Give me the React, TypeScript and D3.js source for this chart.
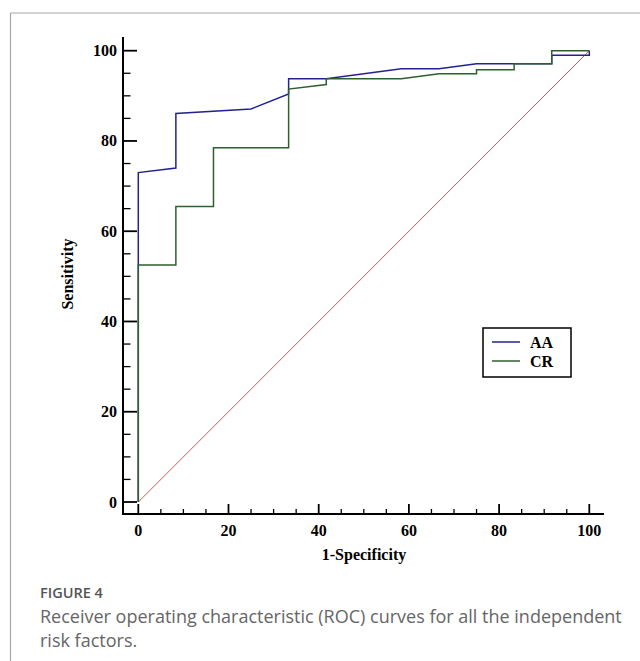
import React from "react";
import * as d3 from "d3";

const xTicks = [0, 20, 40, 60, 80, 100];
const yTicks = [0, 20, 40, 60, 80, 100];

const aaX = [0, 0, 8.33, 8.33, 25, 33.33, 33.33, 41.67, 58.33, 66.67, 75, 91.67, 91.67, 100, 100];
const aaY = [0, 73, 74, 86.1, 87.1, 90.4, 93.8, 93.8, 96, 96, 97.1, 97.1, 99, 99, 100];

const crX = [0, 0, 8.33, 8.33, 16.67, 16.67, 33.33, 33.33, 41.67, 41.67, 58.33, 66.67, 75, 75, 83.33, 83.33, 91.67, 91.67, 100];
const crY = [0, 52.5, 52.5, 65.5, 65.5, 78.5, 78.5, 91.5, 92.5, 93.8, 93.8, 94.9, 94.9, 95.8, 95.8, 97.1, 97.1, 100, 100];

const refX = [0, 100];
const refY = [0, 100];

const seriesNames = ["AA", "CR"];
const seriesColors = ["#23238f", "#2e5f2e"];

export default function App() {
  const x = d3.scaleLinear().domain([0, 100]).range([138.3, 589.3]);
  const y = d3.scaleLinear().domain([0, 100]).range([502, 50.7]);
  const line = d3
    .line<[number, number]>()
    .x((d) => x(d[0]))
    .y((d) => y(d[1]));
  const aa = aaX.map((v, i) => [v, aaY[i]] as [number, number]);
  const cr = crX.map((v, i) => [v, crY[i]] as [number, number]);
  const ref = refX.map((v, i) => [v, refY[i]] as [number, number]);
  const minor = d3.range(0, 101, 5).filter((v) => v % 20 !== 0);
  const axisX = 123;
  const axisY = 514;
  const serif = "'Liberation Serif', 'Times New Roman', serif";
  const sans = "'Open Sans', 'Noto Sans', sans-serif";

  return (
    <svg
      width={640}
      height={661}
      style={{ position: "absolute", left: 0, top: 0, background: "#fff" }}
    >
      <rect x={0} y={0} width={640} height={661} fill="#fff" />
      {/* frame */}
      <line x1={10.5} y1={13} x2={640} y2={13} stroke="#a8a8a8" strokeWidth={1.2} />
      <line x1={10.5} y1={13} x2={10.5} y2={661} stroke="#a8a8a8" strokeWidth={1.2} />

      {/* reference diagonal */}
      <path d={line(ref) || ""} fill="none" stroke="#d2453c" strokeWidth={0.9} />
      {/* curves */}
      <path d={line(aa) || ""} fill="none" stroke={seriesColors[0]} strokeWidth={1.5} />
      <path d={line(cr) || ""} fill="none" stroke={seriesColors[1]} strokeWidth={1.5} />

      {/* axes */}
      <line x1={axisX} y1={37} x2={axisX} y2={axisY + 1} stroke="#000" strokeWidth={2} />
      <line x1={axisX - 1} y1={axisY} x2={604} y2={axisY} stroke="#000" strokeWidth={2} />
      {yTicks.map((t) => (
        <g key={"yt" + t}>
          <line x1={axisX} x2={axisX + 14} y1={y(t)} y2={y(t)} stroke="#000" strokeWidth={1.8} />
          <text
            x={117}
            y={y(t)}
            textAnchor="end"
            dominantBaseline="central"
            fontFamily={serif}
            fontWeight="bold"
            fontSize={16}
          >
            {t}
          </text>
        </g>
      ))}
      {minor.map((t) => (
        <line key={"ym" + t} x1={axisX} x2={axisX + 7.5} y1={y(t)} y2={y(t)} stroke="#000" strokeWidth={1.3} />
      ))}
      {xTicks.map((t) => (
        <g key={"xt" + t}>
          <line x1={x(t)} x2={x(t)} y1={axisY} y2={axisY - 10} stroke="#000" strokeWidth={1.8} />
          <text
            x={x(t)}
            y={536}
            textAnchor="middle"
            fontFamily={serif}
            fontWeight="bold"
            fontSize={16}
          >
            {t}
          </text>
        </g>
      ))}
      {minor.map((t) => (
        <line key={"xm" + t} x1={x(t)} x2={x(t)} y1={axisY} y2={axisY - 5} stroke="#000" strokeWidth={1.3} />
      ))}

      {/* axis titles */}
      <text x={364} y={560} textAnchor="middle" fontFamily={serif} fontWeight="bold" fontSize={16}>
        1-Specificity
      </text>
      <text
        transform="translate(67,274) rotate(-90)"
        textAnchor="middle"
        dominantBaseline="central"
        fontFamily={serif}
        fontWeight="bold"
        fontSize={16}
      >
        Sensitivity
      </text>

      {/* legend */}
      <rect x={483} y={328} width={88} height={49} fill="#fff" stroke="#000" strokeWidth={1.5} />
      {seriesNames.map((n, i) => (
        <g key={n}>
          <line x1={492} x2={520} y1={342 + i * 19} y2={342 + i * 19} stroke={seriesColors[i]} strokeWidth={1.5} />
          <text x={530} y={342 + i * 19} dominantBaseline="central" fontFamily={serif} fontWeight="bold" fontSize={16}>
            {n}
          </text>
        </g>
      ))}

      {/* caption */}
      <text x={40} y={598} fontFamily={sans} fontSize={14.5} fontWeight={600} fill="#555">
        FIGURE 4
      </text>
      <text x={40} y={623} fontFamily={sans} fontSize={18} fill="#666">
        Receiver operating characteristic (ROC) curves for all the independent
      </text>
      <text x={40} y={647} fontFamily={sans} fontSize={18} fill="#666">
        risk factors.
      </text>
    </svg>
  );
}
